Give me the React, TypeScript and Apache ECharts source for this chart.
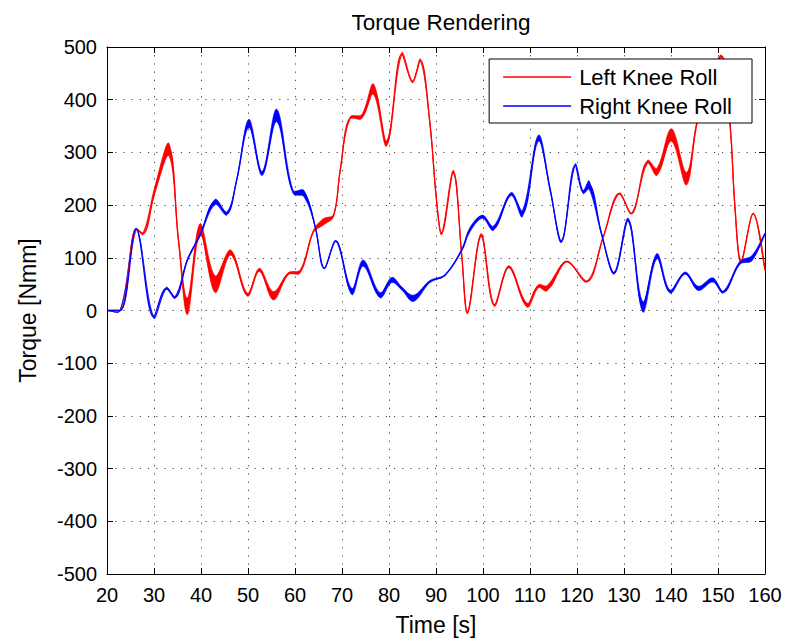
import React, { useEffect, useRef } from "react";
import * as echarts from "echarts";

// Left Knee Roll (red): time, centre value, half band width
const leftTime = [20, 22.8, 26.2, 27.7, 30.2, 33.2, 35.2, 37.1, 39.8, 43, 46.3, 49.9, 52.4, 55.4, 58.6, 61.1, 63.9, 66, 68.2, 69.6, 71.7, 74.2, 76.7, 79.5, 82.7, 85, 86.7, 88.7, 90.1, 91.2, 93.7, 95.5, 96.7, 99.6, 102.4, 105.5, 109.4, 111.8, 113.6, 117.8, 122.1, 125.6, 129, 131.6, 135, 137, 140.1, 143.3, 145.5, 148.3, 150.8, 152.6, 153.6, 154.9, 157.5, 160];
const leftValue = [0, 0, 154, 146, 229, 305, 134, 8, 155, 50, 110, 30, 77, 28, 70, 74, 150, 168, 180, 265, 365, 368, 420, 317, 487, 434, 475, 356, 210, 146, 263, 102, -4, 143, 10, 83, 10, 46, 42, 93, 55, 140, 222, 184, 282, 263, 333, 250, 355, 440, 482, 349, 197, 93, 184, 77];
const leftBand = [0, 0, 1, 2, 7, 12, 3, 16, 10, 16, 5, 3, 3, 8, 2, 3, 2, 6, 2, 1, 2, 4, 10, 5, 2, 2, 2, 2, 1, 2, 3, 2, 2, 3, 2, 2, 4, 3, 5, 1, 1, 1, 1, 1, 3, 7, 12, 12, 3, 2, 2, 3, 5, 3, 1, 1];

// Right Knee Roll (blue)
const rightTime = [20, 22.8, 26.2, 29.9, 32.6, 34.5, 37.1, 39.8, 43, 45.5, 47.6, 50.2, 53, 56.1, 59.6, 61.9, 64.3, 66.2, 68.7, 72.1, 74.5, 78.1, 80.6, 82.7, 85.2, 88.7, 91.9, 95.5, 97.2, 99.9, 102.2, 106, 108.4, 111.8, 114.3, 116.7, 119.6, 121.3, 122.6, 125.2, 127.9, 130.9, 134, 137, 139.8, 143, 145.8, 148.9, 151.1, 154.7, 157.2, 160];
const rightValue = [0, 0, 155, -12, 42, 25, 96, 143, 206, 184, 248, 355, 260, 370, 225, 222, 159, 80, 132, 36, 90, 29, 58, 42, 23, 55, 67, 115, 153, 178, 156, 221, 184, 327, 229, 131, 276, 225, 238, 146, 71, 172, 7, 103, 36, 71, 42, 58, 35, 91, 99, 146];
const rightBand = [0, 0, 1, 2, 2, 2, 2, 2, 5, 3, 2, 8, 4, 12, 3, 6, 1, 1, 1, 6, 6, 5, 5, 3, 6, 2, 1, 2, 4, 3, 4, 3, 6, 6, 3, 2, 2, 3, 8, 2, 2, 3, 10, 5, 3, 2, 4, 4, 2, 3, 5, 1];

const xTicks = { min: 20, max: 160, interval: 10 };
const yTicks = { min: -500, max: 500, interval: 100 };

const FONT = "Liberation Sans, Arial, Helvetica, sans-serif";
const SMOOTH = 0.35;

function curveSeries(name: string, t: number[], v: number[], w: number[], color: string) {
  return [
    {
      name: name + " band",
      type: "custom",
      data: [[t[0], v[0]]],
      silent: true,
      z: 2,
      renderItem: (params: any, api: any) => {
        const upper = t.map((x, i) => api.coord([x, v[i] + w[i]]));
        const lower = t.map((x, i) => api.coord([x, v[i] - w[i]])).reverse();
        return {
          type: "polygon",
          shape: { points: upper.concat(lower), smooth: SMOOTH },
          style: { fill: color, stroke: color, lineWidth: 0.6 },
        };
      },
    },
    {
      name,
      type: "line",
      data: t.map((x, i) => [x, v[i]]),
      smooth: SMOOTH,
      symbol: "none",
      lineStyle: { color, width: 1.3 },
      itemStyle: { color },
      z: 3,
    },
  ];
}

export default function App() {
  const ref = useRef<HTMLDivElement>(null);
  useEffect(() => {
    if (!ref.current) return;
    const chart = echarts.init(ref.current, undefined, { renderer: "svg" });
    const axisCommon = {
      type: "value",
      axisLine: { show: true, onZero: false, lineStyle: { color: "#000", width: 1 } },
      axisTick: { show: true, inside: true, length: 6, lineStyle: { color: "#000" } },
    };
    const grid = { show: true, lineStyle: { color: "#444", type: [1.2, 7], width: 1 } };
    chart.setOption({
      animation: false,
      backgroundColor: "#fff",
      title: {
        text: "Torque Rendering",
        left: 436,
        top: 6,
        textAlign: "center",
        textStyle: { fontFamily: FONT, fontSize: 22.5, fontWeight: "normal", color: "#000" },
      },
      legend: {
        data: ["Left Knee Roll", "Right Knee Roll"],
        orient: "vertical",
        right: 37,
        top: 59,
        padding: [7, 20, 6, 14],
        itemGap: 7,
        itemWidth: 68,
        itemHeight: 22,
        backgroundColor: "#fff",
        borderColor: "#000",
        borderWidth: 1,
        borderRadius: 0,
        icon: "path://M0,0L68,0L68,1.3L0,1.3Z",
        textStyle: { fontFamily: FONT, fontSize: 22, color: "#000", padding: [0, 0, 0, 3] },
      },
      grid: { left: 107, right: 24, top: 47, bottom: 67 },
      xAxis: [
        {
          ...axisCommon,
          ...xTicks,
          position: "bottom",
          name: "Time [s]",
          nameLocation: "middle",
          nameGap: 39,
          nameTextStyle: { fontFamily: FONT, fontSize: 23, color: "#000" },
          axisLabel: { fontFamily: FONT, fontSize: 20, color: "#000", margin: 11 },
          splitLine: grid,
        },
        { ...axisCommon, ...xTicks, position: "top", axisLabel: { show: false }, splitLine: { show: false } },
      ],
      yAxis: [
        {
          ...axisCommon,
          ...yTicks,
          position: "left",
          name: "Torque [Nmm]",
          nameLocation: "middle",
          nameGap: 68,
          nameRotate: 90,
          nameTextStyle: { fontFamily: FONT, fontSize: 23, color: "#000" },
          axisLabel: { fontFamily: FONT, fontSize: 20, color: "#000", margin: 10 },
          splitLine: grid,
        },
        { ...axisCommon, ...yTicks, position: "right", axisLabel: { show: false }, splitLine: { show: false } },
      ],
      series: [
        ...curveSeries("Left Knee Roll", leftTime, leftValue, leftBand, "#ff0000"),
        ...curveSeries("Right Knee Roll", rightTime, rightValue, rightBand, "#0000ff"),
      ],
    });
    return () => chart.dispose();
  }, []);
  return <div ref={ref} style={{ width: 789, height: 641, position: "absolute", left: 0, top: 0 }} />;
}
